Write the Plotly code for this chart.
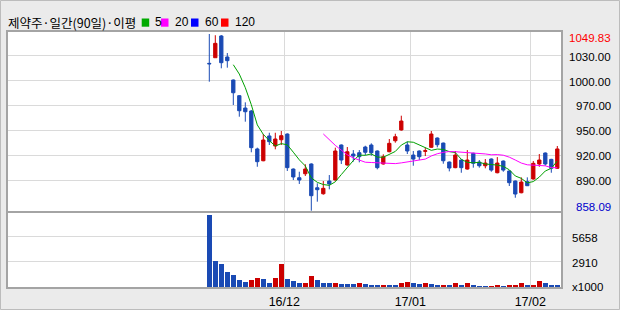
import plotly.graph_objects as go

# ---------------- data ----------------
opens = [1018, 1024.1, 1047.7, 1024.9, 999.9, 982.9, 969.5, 966.3, 925.1, 912.3,
         939.2, 928.3, 935.1, 941.3, 903.3, 893.9, 898.2, 908.8, 883, 876.5,
         890.3, 891.4, 929.4, 907.7, 919.6, 921, 927.2, 929.4, 922.9, 908.8,
         922.1, 934, 945.7, 929.4, 918.5, 922.9, 922.5, 926.9, 937, 931.5,
         910.9, 904.8, 913.1, 903.3, 920.4, 910.9, 906.9, 914.2, 899.3, 912,
         901.2, 890.3, 877.6, 889.6, 892.5, 908.8, 920.7, 913.8, 904.1]
highs = [1049.83, 1048.5, 1048.7, 1029.2, 1000.5, 983.5, 975.7, 967.4, 926.5, 941.3,
         942.7, 942.7, 944.6, 942, 904, 900.4, 908.5, 909.5, 887.8, 890.3,
         896.8, 926.5, 930, 927.2, 923.9, 923.9, 928.6, 931.2, 923.5, 919.3,
         935.9, 941.6, 961.2, 933, 922.9, 923.5, 926.5, 944.6, 937.6, 932,
         911.5, 922.9, 913.7, 923.9, 921, 913.1, 914.2, 914.8, 916.3, 912.6,
         901.8, 890.9, 894.3, 894.3, 912, 919.6, 921.3, 914.4, 928.3]
lows = [998.1, 1024.1, 1012.6, 1013.3, 972.8, 960.1, 954.7, 921.5, 905.8, 911.8,
        929.4, 924.7, 929.4, 901.2, 891.4, 887.1, 895.8, 858.09, 867.9, 875.5,
        881.3, 890.8, 908.8, 907, 911.3, 910.6, 918.5, 917.8, 903, 908.2,
        921.5, 931.9, 945, 919.6, 906.9, 913.1, 917.4, 926.3, 926.9, 909.1,
        900.8, 904.2, 899.3, 902.7, 904.8, 904.8, 904.1, 900.4, 898.7, 900.4,
        884.9, 872.2, 877, 884.9, 891.9, 905.8, 907, 899.3, 903.5]
closes = [1017.5, 1039.7, 1018.7, 1020.9, 986.1, 966.6, 965.5, 926.5, 911.3, 934.8,
          933, 935.9, 939.5, 904.8, 894.7, 891.4, 903.3, 874.4, 880.9, 882.4,
          887.1, 922.9, 913.1, 922.1, 917.4, 916.7, 921.5, 921, 904.8, 916.7,
          931.2, 938.4, 955.4, 922.9, 914.1, 916.7, 923.2, 941.3, 929.7, 912.3,
          904.4, 918.5, 904.8, 913.1, 909.5, 906.9, 909.8, 902.2, 909.8, 902.2,
          888.5, 876.2, 889.2, 885.2, 909.5, 913.1, 908.8, 904.1, 925.1]
volumes = [8066, 2983, 2689, 1768, 1437, 884, 663, 884, 1142, 995,
           552, 1142, 2652, 995, 773, 552, 560, 1326, 884, 552,
           545, 552, 442, 440, 438, 552, 442, 331, 330, 335,
           331, 330, 552, 663, 552, 442, 552, 442, 331, 335,
           331, 552, 331, 552, 331, 221, 220, 225, 331, 221,
           331, 335, 552, 331, 335, 773, 552, 331, 320]
volume_up = [0, 0, 0, 0, 0, 0, 0, 1, 1, 0,
             0, 1, 1, 0, 0, 0, 1, 1, 0, 0,
             0, 1, 0, 0, 0, 1, 0, 0, 0, 1,
             0, 0, 1, 1, 0, 0, 1, 0, 0, 1,
             0, 1, 0, 1, 0, 0, 0, 1, 1, 0,
             1, 1, 1, 0, 1, 1, 0, 0, 0]
ma5 = [1016.5, 1006.4, 991.6, 973.1, 951.2, 940.9, 934.2, 928.3, 930.9, 929.6,
       921.6, 913.3, 906.7, 893.7, 888.9, 886.5, 885.6, 889.5, 897.3, 905.5,
       912.5, 918.4, 918.2, 919.7, 916.3, 916.1, 919.0, 922.4, 929.3, 932.9,
       932.4, 929.5, 926.5, 923.6, 925.0, 924.6, 922.2, 921.2, 913.9, 910.6,
       910.1, 910.6, 908.8, 908.3, 907.6, 906.2, 902.5, 895.8, 893.2, 888.3,
       889.7, 894.6, 901.2, 904.1, 912.1]
ma20 = [941.4, 934.9, 929.0, 923.8, 918.8, 915.4, 912.9, 910.7, 910.4, 910.1,
        909.2, 909.1, 909.2, 910.0, 910.9, 911.9, 913.2, 914.1, 917.5, 919.9,
        921.4, 922.3, 922.1, 921.7, 921.2, 920.8, 920.3, 919.7, 918.8, 919.0,
        918.3, 916.2, 913.1, 909.8, 907.9, 907.7, 907.5, 906.8, 904.9, 904.7]

price_tick_vals = [1026.3, 999.3, 972.3, 945.3, 918.3, 891.3]
price_tick_labels = ["1030.00", "1000.00", "970.00", "950.00", "920.00", "890.00"]
price_max_label = "1049.83"
price_min_label = "858.09"
vol_tick_vals = [5658, 2910]
vol_tick_labels = ["5658", "2910"]
vol_unit_label = "x1000"
month_tick_pos = [12.5, 33.5, 53.5]
month_labels = ["16/12", "17/01", "17/02"]
title_text = "제약주·일간(90일)·이평"
legend_names = ["5", "20", "60", "120"]

# ---------------- styling ----------------
RED = "#cc0000"
BLUE = "#1a4ab4"
GRID = "#dadada"
FRAME = "#a4a4a4"
BG = "#ebebeb"
NUM_FONT = "Liberation Sans"
KR_FONT = "Noto Sans CJK KR"

W, H = 620, 310
L, R, T, B = 7, 58, 31, 22
PW, PH = W - L - R, H - T - B
SPLIT_PX = 212


def px_x(px):
    return (px - L) / PW


def px_y(py):
    return (H - B - py) / PH


split = px_y(SPLIT_PX)
idx = list(range(len(closes)))

fig = go.Figure()
fig.add_trace(go.Candlestick(
    x=idx, open=opens, high=highs, low=lows, close=closes,
    increasing=dict(line=dict(color=RED, width=1), fillcolor=RED),
    decreasing=dict(line=dict(color=BLUE, width=1), fillcolor=BLUE),
    whiskerwidth=0, xaxis="x", yaxis="y", showlegend=False, hoverinfo="skip"))
fig.add_trace(go.Scatter(
    x=idx[len(idx) - len(ma5):], y=ma5, mode="lines",
    line=dict(color="#00a000", width=1), xaxis="x", yaxis="y",
    showlegend=False, hoverinfo="skip"))
fig.add_trace(go.Scatter(
    x=idx[len(idx) - len(ma20):], y=ma20, mode="lines",
    line=dict(color="#ff00ff", width=1), xaxis="x", yaxis="y",
    showlegend=False, hoverinfo="skip"))
fig.add_trace(go.Bar(
    x=idx, y=volumes, width=0.78,
    marker=dict(color=[RED if u else BLUE for u in volume_up], line=dict(width=0)),
    xaxis="x2", yaxis="y2", showlegend=False, hoverinfo="skip"))

xr = [-(209.3 - L) / 6.0, -(209.3 - L) / 6.0 + PW / 6.0]

fig.update_layout(
    width=W, height=H,
    margin=dict(l=L, r=R, t=T, b=B, pad=0, autoexpand=False),
    paper_bgcolor=BG, plot_bgcolor="white",
    boxgap=0.22,
    bargap=0,
    xaxis=dict(domain=[0, 1], anchor="y", range=xr, tickvals=month_tick_pos,
               showticklabels=False, showgrid=True, gridcolor=GRID, gridwidth=1,
               zeroline=False, ticks="", rangeslider=dict(visible=False),
               fixedrange=True, automargin=False),
    yaxis=dict(domain=[split, 1], anchor="x", range=[856.7, 1053.1],
               tickvals=price_tick_vals, showticklabels=False, showgrid=True,
               gridcolor=GRID, gridwidth=1, zeroline=False, ticks="",
               fixedrange=True, automargin=False),
    xaxis2=dict(domain=[0, 1], anchor="y2", range=xr, matches="x",
                tickvals=month_tick_pos, ticktext=month_labels, showgrid=True,
                gridcolor=GRID, gridwidth=1, zeroline=False, ticks="",
                ticklabelstandoff=4, automargin=False,
                tickfont=dict(family=NUM_FONT, size=12.5, color="#000")),
    yaxis2=dict(domain=[0, split], anchor="x2", range=[0, 8400],
                tickvals=vol_tick_vals, showticklabels=False, showgrid=True,
                gridcolor=GRID, gridwidth=1, zeroline=False, ticks="",
                fixedrange=True, automargin=False),
)

shapes = []
# outer frame of the widget
shapes.append(dict(type="rect", xref="paper", yref="paper",
                   x0=px_x(0.5), x1=px_x(W - 0.5), y0=px_y(H - 0.5), y1=px_y(0.5),
                   line=dict(color="#bcbcbc", width=1)))
# plot frame + panel separator
shapes.append(dict(type="rect", xref="paper", yref="paper", x0=0, x1=1, y0=0, y1=1,
                   line=dict(color=FRAME, width=2)))
shapes.append(dict(type="line", xref="paper", yref="paper", x0=0, x1=1, y0=split, y1=split,
                   line=dict(color=FRAME, width=2)))
# legend squares
legend_colors = ["#00aa00", "#ff00ff", "#0000ff", "#ff0000"]
legend_sq_px = [141.7, 161.0, 191.0, 221.0]
legend_txt_px = [153.0, 173.0, 203.0, 233.0]
for c, sx in zip(legend_colors, legend_sq_px):
    shapes.append(dict(type="rect", xref="paper", yref="paper",
                       x0=px_x(sx), x1=px_x(sx + 7.5), y0=px_y(26.7), y1=px_y(18.5),
                       line=dict(width=0), fillcolor=c))
fig.update_layout(shapes=shapes)

ann = []
ann.append(dict(text=title_text, xref="paper", yref="paper", x=px_x(5.5), y=px_y(22.5),
                xanchor="left", yanchor="middle", showarrow=False,
                font=dict(family=KR_FONT, size=12.5, color="#000")))
for t, tx in zip(legend_names, legend_txt_px):
    ann.append(dict(text=t, xref="paper", yref="paper", x=px_x(tx), y=px_y(22.5),
                    xanchor="left", yanchor="middle", showarrow=False,
                    font=dict(family=NUM_FONT, size=12, color="#000")))
for v, t in zip(price_tick_vals, price_tick_labels):
    ann.append(dict(text=t, xref="paper", yref="y", x=px_x(612.5), y=v, yshift=-1,
                    xanchor="right", yanchor="middle", showarrow=False,
                    font=dict(family=NUM_FONT, size=11.5, color="#000")))
ann.append(dict(text=price_max_label, xref="paper", yref="paper", x=px_x(612.5), y=px_y(38.3),
                xanchor="right", yanchor="middle", showarrow=False,
                font=dict(family=NUM_FONT, size=11.5, color="#ff0000")))
ann.append(dict(text=price_min_label, xref="paper", yref="paper", x=px_x(612.5), y=px_y(206.7),
                xanchor="right", yanchor="middle", showarrow=False,
                font=dict(family=NUM_FONT, size=11.5, color="#0000cc")))
for v, t in zip(vol_tick_vals, vol_tick_labels):
    ann.append(dict(text=t, xref="paper", yref="y2", x=px_x(570), y=v, yshift=-1,
                    xanchor="left", yanchor="middle", showarrow=False,
                    font=dict(family=NUM_FONT, size=11.5, color="#000")))
ann.append(dict(text=vol_unit_label, xref="paper", yref="paper", x=px_x(570), y=px_y(286.5),
                xanchor="left", yanchor="middle", showarrow=False,
                font=dict(family=NUM_FONT, size=11.5, color="#000")))
fig.update_layout(annotations=ann)

fig.write_html("out.html")
